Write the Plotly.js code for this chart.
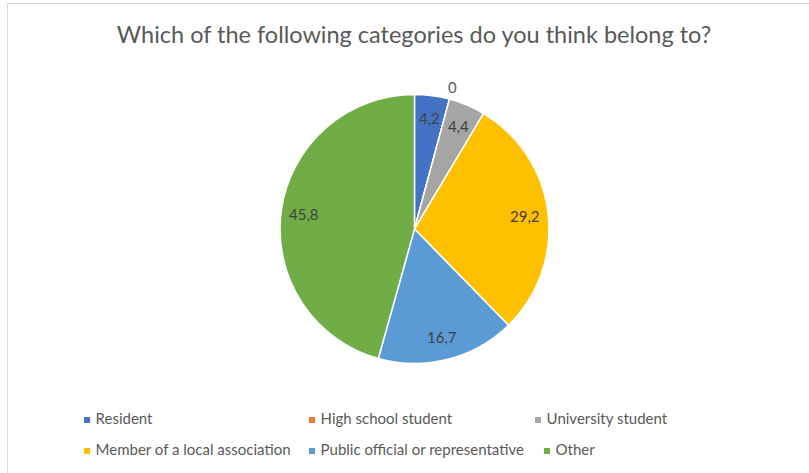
<!DOCTYPE html>
<html>
<head>
<meta charset="utf-8">
<script src="https://cdn.plot.ly/plotly-3.0.1.min.js"></script>
<style>
html,body{margin:0;padding:0;background:#fff;overflow:hidden;}
#frame{position:absolute;left:7px;top:3px;width:900px;height:600px;border-left:1px solid #D9D9D9;border-top:1px solid #D9D9D9;}
#chart{position:absolute;left:0;top:0;width:809px;height:473px;}
</style>
</head>
<body>
<div id="frame"></div>
<div id="chart"></div>
<script>
const categories = ["Resident", "High school student", "University student",
  "Member of a local association", "Public official or representative", "Other"];
const values = [4.2, 0, 4.4, 29.2, 16.7, 45.8];
const valueLabels = ["4,2", "0", "4,4", "29,2", "16,7", "45,8"];
const colors = ["#4472C4", "#ED7D31", "#A5A5A5", "#FFC000", "#5B9BD5", "#70AD47"];

// legend layout (pixel positions of marker centres)
const legX = [87, 312, 538, 87, 312, 547];
const legY = [420, 420, 420, 451, 451, 451];

const W = 809, H = 473;
const FONT = "Lato, 'Open Sans', sans-serif";

// pie geometry (pixels)
const CX = 414.5, CY = 229, R = 134.5;
const INSIDE_F = 0.83, OUTSIDE_F = 1.09;

// data-label annotations derived from the values (clockwise from 12 o'clock)
const total = values.reduce((a, b) => a + b, 0);
const labelAnnotations = [];
let cum = 0;
values.forEach((v, i) => {
  const ang = 2 * Math.PI * (cum + v / 2) / total;
  const f = v === 0 ? OUTSIDE_F : INSIDE_F;
  labelAnnotations.push({
    xref: "x", yref: "y",
    x: CX + f * R * Math.sin(ang),
    y: CY - f * R * Math.cos(ang),
    text: valueLabels[i],
    showarrow: false,
    xanchor: "center", yanchor: "middle",
    font: {family: FONT, size: 15, color: v === 0 ? "#595959" : "#404040"}
  });
  cum += v;
});

const pie = {
  type: "pie",
  values: values,
  labels: categories,
  textinfo: "none",
  sort: false,
  direction: "clockwise",
  rotation: 0,
  marker: {colors: colors, line: {color: "#ffffff", width: 1.5}},
  hoverinfo: "label+value",
  domain: {x: [(CX - R) / W, (CX + R) / W], y: [1 - (CY + R) / H, 1 - (CY - R) / H]},
  showlegend: false
};

const legendTrace = {
  type: "scatter",
  mode: "markers+text",
  x: legX,
  y: legY,
  text: categories.map(c => "\u00a0" + c),
  textposition: "middle right",
  textfont: {family: FONT, size: 15, color: "#595959"},
  marker: {symbol: "square", size: 6, color: colors},
  hoverinfo: "skip",
  showlegend: false,
  cliponaxis: false
};

const layout = {
  width: W, height: H,
  margin: {l: 0, r: 0, t: 0, b: 0},
  paper_bgcolor: "rgba(0,0,0,0)",
  plot_bgcolor: "rgba(0,0,0,0)",
  showlegend: false,
  title: {
    text: "Which of the following categories do you think belong to?",
    font: {family: FONT, size: 23.5, color: "#595959"},
    x: 414 / W, xanchor: "center",
    y: 1 - 35 / H, yanchor: "middle"
  },
  xaxis: {range: [0, W], visible: false, fixedrange: true},
  yaxis: {range: [H, 0], visible: false, fixedrange: true},
  annotations: labelAnnotations
};

Plotly.newPlot("chart", [pie, legendTrace], layout, {displayModeBar: false, staticPlot: true});
</script>
</body>
</html>
